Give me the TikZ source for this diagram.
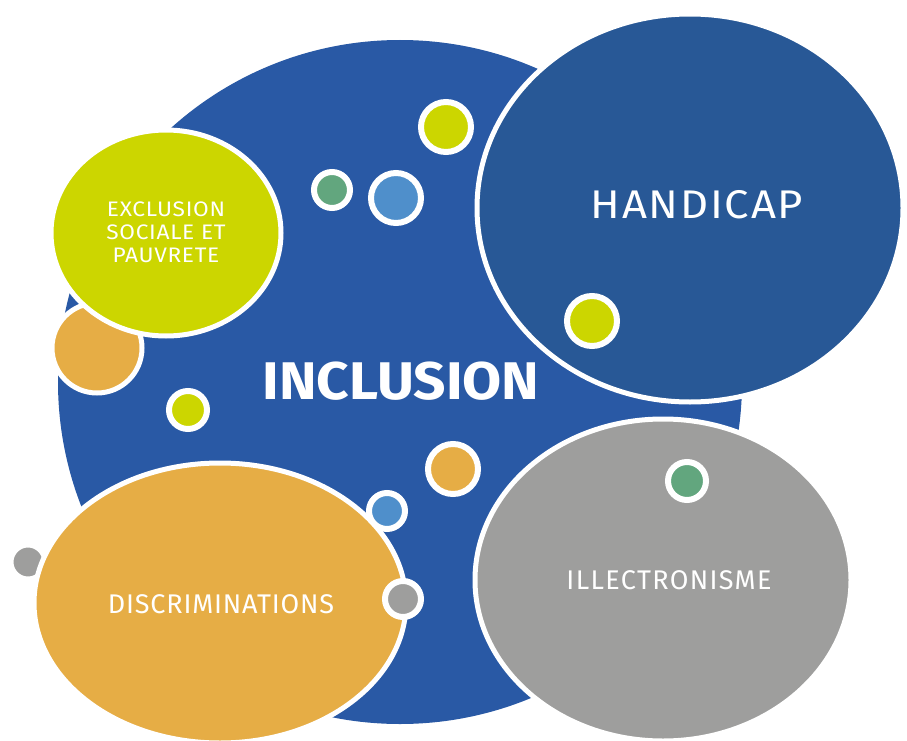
\documentclass[tikz,border=0pt]{standalone}
\usepackage{fontspec}
\setmainfont{Fira Sans}
\usetikzlibrary{shapes.geometric}
\definecolor{mainblue}{RGB}{41,89,165}
\definecolor{hblue}{RGB}{40,88,150}
\definecolor{lime}{RGB}{204,214,0}
\definecolor{ochre}{RGB}{230,173,69}
\definecolor{stone}{RGB}{158,158,157}
\definecolor{teal}{RGB}{98,166,126}
\definecolor{sky}{RGB}{79,143,203}
\tikzset{
  bubble/.style={ellipse,inner sep=0pt,outer sep=0pt,draw=white,line width=5pt,text=white,align=center},
  dot/.style={circle,inner sep=0pt,outer sep=0pt,draw=white,line width=6pt,minimum size=#1},
  label text/.style={text=white,align=center,inner sep=0pt},
}
\begin{document}
\begin{tikzpicture}[x=1pt,y=-1pt]
\useasboundingbox (0,0) rectangle (907,741);
% main circle
\node[circle,fill=mainblue,inner sep=0pt,minimum size=684pt] (incl) at (400,382) {};
\node[label text,font=\bfseries\fontsize{53}{53}\selectfont] (incltxt) at (401,381) {\scalebox{1.07}[1]{INCLUSION}};
% small dots on main
\node[dot=50pt,fill=lime] (d1) at (446,127) {};
\node[dot=36pt,fill=teal] (d2) at (332,190) {};
\node[dot=50pt,fill=sky] (d3) at (396,198) {};
\node[dot=38pt,fill=lime] (d4) at (188,410) {};
\node[dot=50pt,fill=ochre] (d5) at (453,469) {};
% left orange
\node[circle,inner sep=0pt,draw=white,line width=5pt,fill=ochre,minimum size=90pt] (o1) at (97,348) {};
% exclusion
\node[bubble,fill=lime,minimum width=230pt,minimum height=206pt] (excl) at (166,233) {};
\node[label text,font=\fontsize{21}{23}\selectfont\addfontfeature{LetterSpace=3}] (excltxt) at (166,235) {\scalebox{1.08}[1]{\begin{tabular}{@{}c@{}}EXCLUSION\\SOCIALE ET\\PAUVRETE\end{tabular}}};
% handicap
\node[bubble,fill=hblue,minimum width=426pt,minimum height=388pt] (hand) at (690,208) {};
\node[label text,font=\fontsize{40}{40}\selectfont\addfontfeature{LetterSpace=4}] (handtxt) at (697,205) {\scalebox{1.09}[1]{HANDICAP}};
\node[dot=50pt,fill=lime] (d6) at (592,321) {};
% discriminations
\node[circle,inner sep=0pt,draw=white,line width=5pt,fill=stone,minimum size=34pt] (g0) at (28,562) {};
\node[bubble,fill=ochre,minimum width=372pt,minimum height=280pt] (disc) at (220,603) {};
\node[label text,font=\fontsize{27}{27}\selectfont\addfontfeature{LetterSpace=3}] (disctxt) at (221,604) {DISCRIMINATIONS};
\node[dot=36pt,fill=sky] (d7) at (387,511) {};
\node[dot=36pt,fill=stone] (d8) at (403,599) {};
% illectronisme
\node[bubble,fill=stone,minimum width=376pt,minimum height=322pt] (illec) at (663,580) {};
\node[label text,font=\fontsize{27}{27}\selectfont\addfontfeature{LetterSpace=5}] (illectxt) at (669,580) {ILLECTRONISME};
\node[dot=38pt,fill=teal] (d9) at (687,481) {};
\end{tikzpicture}
\end{document}
